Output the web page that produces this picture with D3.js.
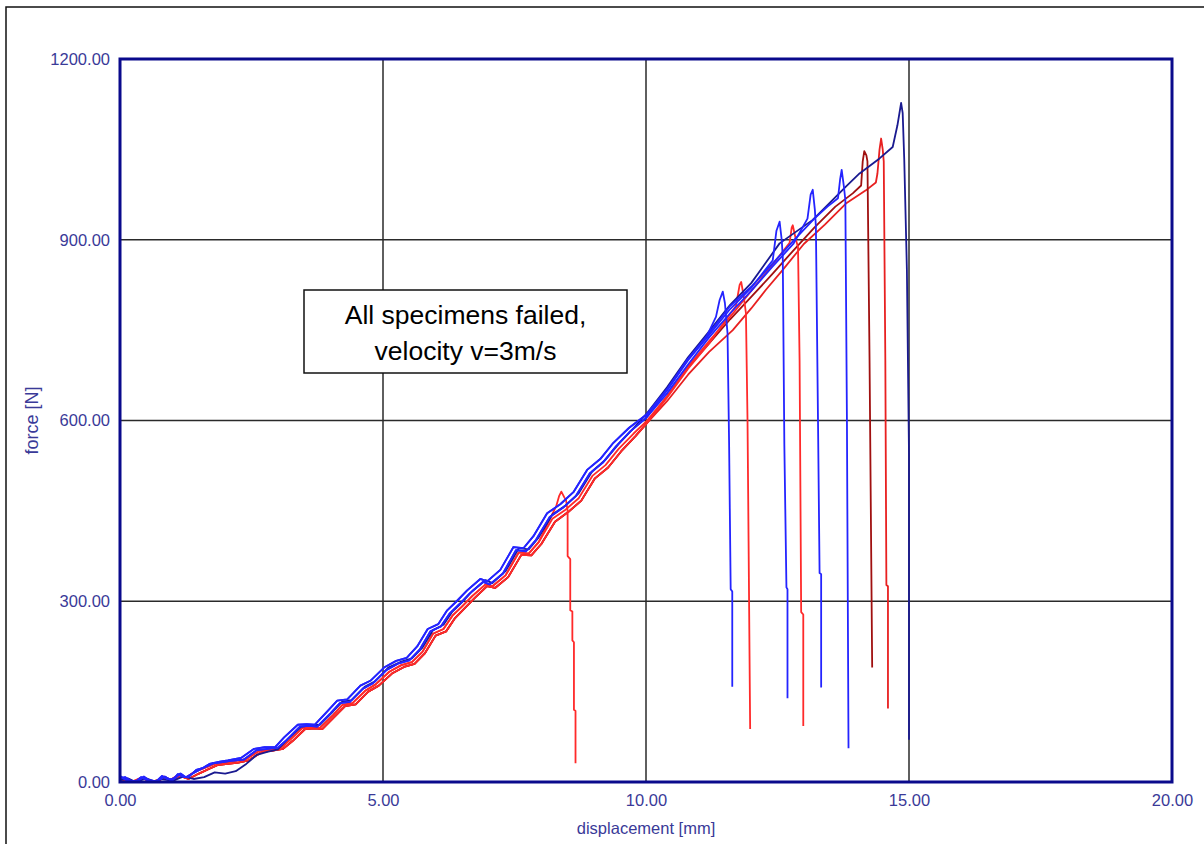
<!DOCTYPE html>
<html>
<head>
<meta charset="utf-8">
<script src="https://cdn.jsdelivr.net/npm/d3@7"></script>
<style>
  html, body { margin: 0; padding: 0; background: #fff; }
  svg { display: block; font-family: "Liberation Sans", Arial, sans-serif; }
</style>
</head>
<body>
<svg id="chart" width="1204" height="844"></svg>
<script>
// Axis ticks
const xTicks = [0, 5, 10, 15, 20];
const yTicks = [0, 300, 600, 900, 1200];
const xGrid = [5, 10, 15];
const yGrid = [300, 600, 900];

// Loading paths [displacement mm, force N], 0 to 10 mm
const loadBlue1 = [[0,10],[0.1,4],[0.2,1],[0.3,1],[0.4,8],[0.5,4],[0.6,0],[0.7,2],[0.8,10],[0.9,5],[1.0,3],[1.1,13],[1.2,9],[1.3,8],[1.45,20],[1.6,24],[1.77,31],[1.95,33],[2.1,35],[2.35,37],[2.6,53],[2.8,55],[3.0,57],[3.17,70],[3.42,92],[3.6,93],[3.75,92],[4.0,114],[4.18,131],[4.37,133],[4.62,155],[4.81,164],[5.07,186],[5.3,197],[5.5,202],[5.7,220],[5.9,250],[6.1,258],[6.27,280],[6.45,295],[6.65,313],[6.9,332],[7.03,328],[7.28,346],[7.53,385],[7.72,383],[7.91,402],[8.17,440],[8.42,455],[8.67,475],[8.93,512],[9.18,530],[9.43,557],[9.7,582],[10.0,604]];
const loadBlue2 = [[0,6],[0.1,8],[0.2,2],[0.35,2],[0.45,9],[0.55,3],[0.7,1],[0.85,9],[0.95,4],[1.05,7],[1.15,14],[1.25,8],[1.4,15],[1.55,22],[1.7,30],[1.9,34],[2.05,36],[2.3,40],[2.55,55],[2.75,58],[2.95,58],[3.12,74],[3.38,95],[3.55,96],[3.7,95],[3.95,118],[4.13,135],[4.32,137],[4.57,160],[4.76,168],[5.02,190],[5.25,201],[5.45,206],[5.65,225],[5.85,254],[6.05,262],[6.22,285],[6.4,300],[6.6,318],[6.85,337],[6.98,333],[7.23,352],[7.48,390],[7.67,388],[7.86,408],[8.12,446],[8.37,461],[8.62,481],[8.88,518],[9.13,536],[9.38,563],[9.68,588],[10.0,609]];
const loadNavy = [[0,3],[0.15,6],[0.3,0],[0.5,6],[0.65,1],[0.8,5],[1.0,2],[1.2,9],[1.4,5],[1.6,8],[1.8,16],[2.0,14],[2.2,18],[2.4,30],[2.6,45],[2.8,50],[3.0,54],[3.2,72],[3.45,92],[3.65,94],[3.8,95],[4.05,117],[4.22,133],[4.4,136],[4.65,158],[4.85,167],[5.1,190],[5.35,200],[5.55,205],[5.75,223],[5.95,252],[6.15,261],[6.32,283],[6.5,298],[6.7,317],[6.95,335],[7.08,330],[7.33,350],[7.58,388],[7.77,386],[7.96,406],[8.22,444],[8.47,459],[8.72,479],[8.98,516],[9.23,535],[9.48,561],[9.76,587],[10.0,610]];
const loadRed1 = [[0,5],[0.15,2],[0.25,0],[0.45,6],[0.6,1],[0.75,3],[0.85,8],[1.0,2],[1.15,10],[1.3,5],[1.5,14],[1.7,22],[1.85,28],[2.05,30],[2.25,32],[2.45,36],[2.7,50],[2.9,52],[3.1,55],[3.28,68],[3.52,88],[3.7,89],[3.85,88],[4.1,110],[4.28,126],[4.48,129],[4.72,150],[4.92,160],[5.17,180],[5.4,191],[5.6,196],[5.8,214],[6.0,243],[6.2,250],[6.37,272],[6.55,288],[6.75,306],[6.98,325],[7.13,322],[7.38,340],[7.63,377],[7.82,376],[8.01,395],[8.27,432],[8.52,448],[8.77,467],[9.03,504],[9.28,522],[9.53,549],[9.8,574],[10.0,594]];
const loadRed2 = [[0,7],[0.12,3],[0.25,1],[0.4,7],[0.55,2],[0.7,1],[0.82,9],[0.95,3],[1.1,11],[1.25,7],[1.42,17],[1.6,23],[1.8,30],[2.0,32],[2.2,35],[2.4,38],[2.65,52],[2.85,54],[3.05,56],[3.22,69],[3.47,90],[3.65,91],[3.8,90],[4.05,111],[4.23,128],[4.42,131],[4.67,152],[4.86,162],[5.12,183],[5.35,194],[5.55,199],[5.75,216],[5.95,246],[6.15,254],[6.32,276],[6.5,291],[6.7,309],[6.95,328],[7.08,325],[7.33,343],[7.58,381],[7.77,379],[7.96,398],[8.22,437],[8.47,452],[8.72,471],[8.98,508],[9.23,526],[9.48,553],[9.76,578],[10.0,598]];

// Final part of each specimen: upper loading, peak and failure drop
const tailRedA = [[8.22,445],[8.29,457],[8.35,475],[8.39,482],[8.45,472],[8.48,468],[8.51,450],[8.51,375],[8.56,370],[8.56,285],[8.6,283],[8.6,235],[8.63,232],[8.63,120],[8.66,118],[8.66,31]];
const tailBlueA = [[10.38,648],[10.76,698],[11.14,737],[11.33,772],[11.4,800],[11.46,814],[11.5,795],[11.55,745],[11.58,560],[11.61,320],[11.64,316],[11.64,158]];
const tailRedB = [[10.4,638],[10.8,686],[11.2,728],[11.5,765],[11.71,790],[11.78,825],[11.81,830],[11.86,805],[11.9,778],[11.93,600],[11.95,400],[11.98,88]];
const tailBlueC = [[10.4,650],[10.8,700],[11.2,742],[11.6,785],[12.0,820],[12.41,866],[12.48,915],[12.54,930],[12.58,900],[12.6,872],[12.63,560],[12.67,323],[12.69,320],[12.69,139]];
const tailRedD = [[10.4,640],[10.8,690],[11.2,732],[11.6,772],[12.0,815],[12.4,858],[12.73,895],[12.77,920],[12.79,924],[12.85,900],[12.89,888],[12.92,700],[12.95,282],[12.99,278],[12.99,93]];
const tailBlueE = [[10.4,645],[10.8,693],[11.2,738],[11.6,778],[12.0,815],[12.4,855],[12.8,893],[13.07,935],[13.13,975],[13.17,983],[13.21,950],[13.23,922],[13.27,600],[13.3,347],[13.33,345],[13.33,157]];
const tailBlueF = [[10.4,652],[10.8,702],[11.2,745],[11.6,790],[12.0,822],[12.4,860],[12.8,898],[13.2,935],[13.45,955],[13.65,969],[13.69,1000],[13.72,1016],[13.76,990],[13.79,966],[13.82,600],[13.85,56]];
const tailDarkRedG = [[10.4,640],[10.8,688],[11.2,728],[11.6,768],[12.0,805],[12.4,843],[12.8,882],[13.2,920],[13.6,955],[13.93,977],[14.09,990],[14.12,1030],[14.15,1047],[14.19,1040],[14.21,1030],[14.25,700],[14.3,190]];
const tailRedH = [[10.4,632],[10.8,676],[11.2,714],[11.65,750],[12.0,786],[12.28,817],[12.6,850],[13.0,893],[13.4,925],[13.8,960],[14.18,982],[14.37,995],[14.4,1010],[14.44,1050],[14.47,1068],[14.5,1050],[14.52,1030],[14.55,700],[14.57,327],[14.6,325],[14.6,122]];
const tailNavy = [[10.4,655],[10.8,705],[11.2,748],[11.6,792],[12.0,828],[12.54,894],[13.17,933],[13.55,966],[13.8,988],[14.06,1010],[14.44,1035],[14.69,1054],[14.78,1090],[14.85,1127],[14.88,1110],[14.91,1032],[14.96,850],[15.0,545],[15.0,70]];

const specimens = [
  { load: loadRed1,  tail: tailRedH,     color: "#e82020" },
  { load: loadRed1,  tail: tailDarkRedG, color: "#a01010" },
  { load: loadRed2,  tail: tailRedD,     color: "#ff2a2a" },
  { load: loadRed1,  tail: tailRedB,     color: "#ff2a2a" },
  { load: loadRed2,  tail: tailRedA,     color: "#ff2a2a" },
  { load: loadNavy,  tail: tailNavy,     color: "#1a1a90" },
  { load: loadBlue2, tail: tailBlueF,    color: "#2424ff" },
  { load: loadBlue1, tail: tailBlueE,    color: "#2424ff" },
  { load: loadBlue2, tail: tailBlueC,    color: "#2424ff" },
  { load: loadBlue1, tail: tailBlueA,    color: "#2424ff" }
];

const svg = d3.select("#chart");
const x = d3.scaleLinear().domain([0, 20]).range([120, 1172]);
const y = d3.scaleLinear().domain([0, 1200]).range([782, 59]);
const fmt = d3.format(".2f");
const labelColor = "#3a3a98";

// Outer panel border
svg.append("rect")
  .attr("x", 6).attr("y", 7).attr("width", 1400).attr("height", 1000)
  .attr("fill", "#fff").attr("stroke", "#111").attr("stroke-width", 1.5);

// Grid
svg.append("g").selectAll("line").data(xGrid).join("line")
  .attr("x1", d => x(d)).attr("x2", d => x(d))
  .attr("y1", y(0)).attr("y2", y(1200))
  .attr("stroke", "#2a2a2a").attr("stroke-width", 1.5);
svg.append("g").selectAll("line").data(yGrid).join("line")
  .attr("x1", x(0)).attr("x2", x(20))
  .attr("y1", d => y(d)).attr("y2", d => y(d))
  .attr("stroke", "#2a2a2a").attr("stroke-width", 1.5);

// Curves
const line = d3.line().x(d => x(d[0])).y(d => y(d[1]));
const curves = svg.append("g").attr("fill", "none").attr("stroke-width", 1.8).attr("stroke-linejoin", "round");
specimens.forEach(s => {
  const start = s.tail[0][0];
  const pts = s.load.filter(p => p[0] < start).concat(s.tail);
  curves.append("path").attr("d", line(pts)).attr("stroke", s.color);
});

// Axes
const xAxis = svg.append("g").attr("transform", `translate(0,${y(0)})`)
  .call(d3.axisBottom(x).tickValues(xTicks).tickFormat(fmt).tickSize(0).tickPadding(12));
const yAxis = svg.append("g").attr("transform", `translate(${x(0)},0)`)
  .call(d3.axisLeft(y).tickValues(yTicks).tickFormat(fmt).tickSize(0).tickPadding(10));
[xAxis, yAxis].forEach(g => {
  g.select(".domain").remove();
  g.selectAll("text").attr("fill", labelColor)
    .style("font-size", "16.5px").style("font-family", "'Liberation Sans', Arial, sans-serif");
});

// Plot frame
svg.append("rect")
  .attr("x", x(0)).attr("y", y(1200))
  .attr("width", x(20) - x(0)).attr("height", y(0) - y(1200))
  .attr("fill", "none").attr("stroke", "#0a0a8c").attr("stroke-width", 3);

// Axis titles
svg.append("text")
  .attr("x", (x(0) + x(20)) / 2).attr("y", 834)
  .attr("text-anchor", "middle").attr("fill", labelColor)
  .style("font-size", "16.5px").text("displacement [mm]");
svg.append("text")
  .attr("transform", `translate(38,${y(600)}) rotate(-90)`)
  .attr("text-anchor", "middle").attr("fill", labelColor)
  .style("font-size", "18px").text("force [N]");

// Note box
const note = svg.append("g");
note.append("rect")
  .attr("x", 304).attr("y", 290).attr("width", 323).attr("height", 83)
  .attr("fill", "#fff").attr("stroke", "#111").attr("stroke-width", 1.5);
note.append("text")
  .attr("x", 465.5).attr("y", 324).attr("text-anchor", "middle")
  .attr("fill", "#000").style("font-size", "26.5px").text("All specimens failed,");
note.append("text")
  .attr("x", 465.5).attr("y", 360).attr("text-anchor", "middle")
  .attr("fill", "#000").style("font-size", "26.5px").text("velocity v=3m/s");
</script>
</body>
</html>
